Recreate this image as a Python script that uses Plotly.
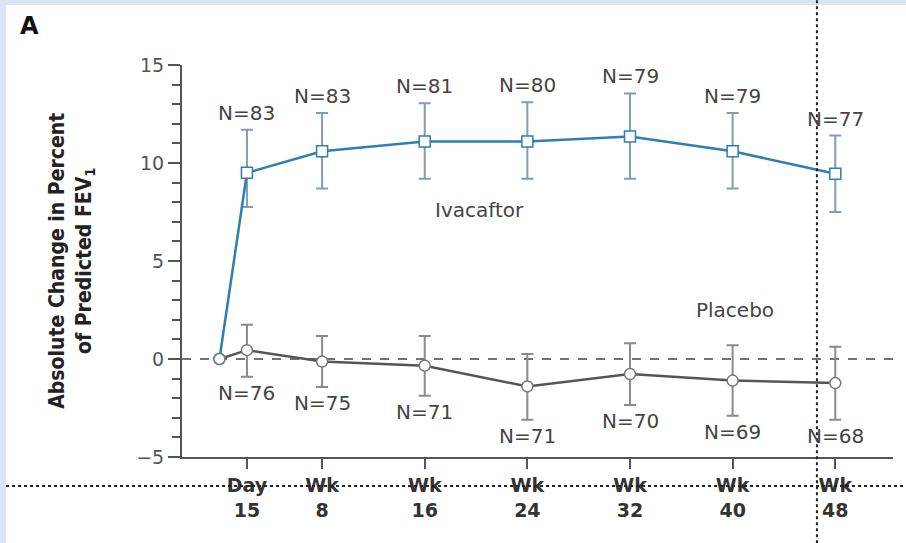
import plotly.graph_objects as go

# visit times in weeks (baseline, day 15, wk 8 ... wk 48)
weeks = [0, 15 / 7, 8, 16, 24, 32, 40, 48]
tick_labels = ["Day<br>15", "Wk<br>8", "Wk<br>16", "Wk<br>24", "Wk<br>32", "Wk<br>40", "Wk<br>48"]

iva_mean = [0, 9.5, 10.6, 11.1, 11.1, 11.35, 10.6, 9.45]
iva_upper = [None, 11.7, 12.55, 13.05, 13.1, 13.55, 12.55, 11.4]
iva_lower = [None, 7.75, 8.7, 9.2, 9.2, 9.2, 8.7, 7.5]
iva_n = [None, 83, 83, 81, 80, 79, 79, 77]

pla_mean = [0, 0.45, -0.13, -0.34, -1.4, -0.77, -1.1, -1.23]
pla_upper = [None, 1.75, 1.17, 1.17, 0.26, 0.8, 0.7, 0.62]
pla_lower = [None, -0.9, -1.43, -1.87, -3.1, -2.35, -2.9, -3.1]
pla_n = [None, 76, 75, 71, 71, 70, 69, 68]

BLUE = "#2f7db3"
BLUE_ERR = "#7f9db6"
GREY = "#555555"
GREY_ERR = "#8a8a8a"
AXIS = "#555555"
FONT = "DejaVu Sans, Open Sans, sans-serif"


def err(mean, upper, lower):
    plus = [None if u is None else u - m for m, u in zip(mean, upper)]
    minus = [None if l is None else m - l for m, l in zip(mean, lower)]
    return plus, minus


fig = go.Figure()

p, m = err(iva_mean, iva_upper, iva_lower)
fig.add_trace(
    go.Scatter(
        x=weeks,
        y=iva_mean,
        mode="lines+markers",
        line={"color": BLUE, "width": 2.5},
        marker={
            "symbol": ["circle"] + ["square"] * 7,
            "size": 11,
            "color": "white",
            "line": {"color": BLUE, "width": 1.5},
        },
        error_y={
            "type": "data",
            "array": p,
            "arrayminus": m,
            "color": BLUE_ERR,
            "thickness": 2,
            "width": 6,
        },
        showlegend=False,
    )
)

p, m = err(pla_mean, pla_upper, pla_lower)
fig.add_trace(
    go.Scatter(
        x=weeks,
        y=pla_mean,
        mode="lines+markers",
        line={"color": GREY, "width": 2.5},
        marker={
            "symbol": "circle",
            "size": 11,
            "color": "white",
            "line": {"color": "#777777", "width": 1.5},
        },
        error_y={
            "type": "data",
            "array": p,
            "arrayminus": m,
            "color": GREY_ERR,
            "thickness": 2,
            "width": 6,
        },
        showlegend=False,
    )
)

# N labels
for x, up, n in zip(weeks, iva_upper, iva_n):
    if n is None:
        continue
    fig.add_annotation(
        x=x, y=up, text=f"N={n}", showarrow=False, yanchor="bottom", yshift=3,
        font={"size": 20, "color": "#444444", "family": FONT},
    )
for x, lo, n in zip(weeks, pla_lower, pla_n):
    if n is None:
        continue
    fig.add_annotation(
        x=x, y=lo, text=f"N={n}", showarrow=False, yanchor="top", yshift=-2,
        font={"size": 20, "color": "#444444", "family": FONT},
    )

fig.add_annotation(
    x=20.3, y=7.6, text="Ivacaftor", showarrow=False,
    font={"size": 20, "color": "#444444", "family": FONT},
)
fig.add_annotation(
    x=40.2, y=2.5, text="Placebo", showarrow=False,
    font={"size": 20, "color": "#444444", "family": FONT},
)

# y-axis title
fig.add_annotation(
    xref="paper", yref="paper", x=-0.155, y=0.5, textangle=-90,
    text="<b>Absolute Change in Percent<br>of Predicted FEV<sub>1</sub></b>",
    showarrow=False, xanchor="center", yanchor="middle",
    font={"size": 21, "color": "#222222",
          "family": "DejaVu Sans Condensed, Liberation Sans Narrow, DejaVu Sans, sans-serif"},
)
# panel label
fig.add_annotation(
    xref="paper", yref="paper", x=-0.215, y=1.1, text="<b>A</b>",
    showarrow=False, xanchor="center", yanchor="middle",
    font={"size": 24, "color": "#111111", "family": FONT},
)

# zero reference line
fig.add_shape(
    type="line", xref="paper", yref="y", x0=0, x1=1, y0=0, y1=0,
    line={"color": "#444444", "width": 1.5, "dash": "dash"}, layer="below",
)

# light blue frame strips
fig.add_shape(
    type="rect", xref="paper", yref="paper", x0=-0.3, x1=-0.2475, y0=-0.3, y1=1.2,
    fillcolor="#dae4f5", line={"width": 0}, layer="below",
)
fig.add_shape(
    type="rect", xref="paper", yref="paper", x0=-0.3, x1=1.05, y0=1.153, y1=1.2,
    fillcolor="#dae4f5", line={"width": 0}, layer="below",
)

# dotted overlay guides
fig.add_shape(
    type="line", xref="paper", yref="paper", x0=-0.2475, x1=1.02, y0=-0.074, y1=-0.074,
    line={"color": "#222222", "width": 2, "dash": "dot"}, layer="above",
)
fig.add_shape(
    type="line", xref="paper", yref="paper", x0=0.893, x1=0.893, y0=-0.22, y1=1.17,
    line={"color": "#222222", "width": 2, "dash": "dot"}, layer="above",
)

fig.update_xaxes(
    range=[-2.92, 52.5],
    tickvals=weeks[1:],
    ticktext=[f"<b>{t}</b>" for t in tick_labels],
    ticks="outside",
    ticklen=10,
    tickwidth=2,
    tickcolor=AXIS,
    showline=True,
    linecolor=AXIS,
    linewidth=2,
    showgrid=False,
    zeroline=False,
    tickfont={"size": 19, "color": "#333333", "family": FONT},
    fixedrange=True,
)
fig.update_yaxes(
    range=[-5, 15],
    tickvals=[-5, 0, 5, 10, 15],
    ticktext=["\u22125", "0", "5", "10", "15"],
    ticks="outside",
    ticklen=12,
    tickwidth=2,
    tickcolor=AXIS,
    minor={"dtick": 1, "ticks": "outside", "ticklen": 8, "tickwidth": 2, "tickcolor": AXIS},
    showline=True,
    linecolor=AXIS,
    linewidth=2,
    showgrid=False,
    zeroline=False,
    tickfont={"size": 19, "color": "#555555", "family": FONT},
    fixedrange=True,
)
fig.update_layout(
    width=906,
    height=543,
    margin={"l": 182, "r": 13, "t": 65, "b": 86},
    paper_bgcolor="white",
    plot_bgcolor="white",
    font={"family": FONT},
)
fig.write_html(
    "out.html",
    config={"displayModeBar": False},
    post_script="document.body.style.margin='0';document.body.style.overflow='hidden';",
)
